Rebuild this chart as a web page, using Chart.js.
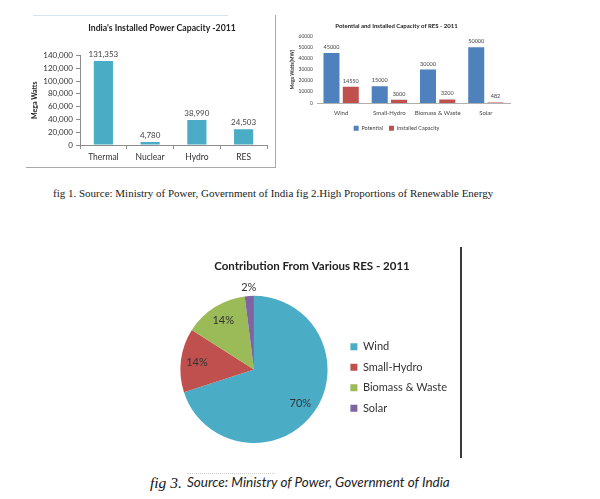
<!DOCTYPE html>
<html>
<head>
<meta charset="utf-8">
<script src="https://cdn.jsdelivr.net/npm/chart.js@4.4.0/dist/chart.umd.min.js"></script>
<style>
    body { margin: 0; width: 600px; height: 499px; background: #fff; position: relative; overflow: hidden; font-family: Lato, sans-serif; }
    canvas { position: absolute; }
    .abs { position: absolute; white-space: nowrap; }
</style>
</head>
<body>
<!-- frame round the first chart -->
<div class="abs" style="left:26px;top:15px;width:249px;height:152px;border-right:1px solid #a8a8a8;border-bottom:1px solid #a8a8a8;"></div>
<div class="abs" style="left:33px;top:15px;width:195px;height:0;border-top:1px solid #d4e4f0;"></div>

<canvas id="capacity-chart" width="272" height="152" style="left:26px;top:15px"></canvas>
<canvas id="res-chart" width="230" height="126" style="left:283px;top:15px"></canvas>

<div class="abs" style="left:53px;top:187px;font-family:'Liberation Serif',serif;font-size:11px;color:#222;">fig 1. Source: Ministry of Power, Government of India fig 2.High Proportions of Renewable Energy</div>

<canvas id="share-chart" width="290" height="193" style="left:167px;top:250px"></canvas>
<div class="abs" style="left:460px;top:247px;width:2px;height:211px;background:#3a3a3a;"></div>

<div class="abs" style="left:187px;top:473px;width:88px;height:0;border-top:1px dotted #cfcfcf;"></div>
<div class="abs" style="left:150px;top:474px;font-family:'Liberation Serif',serif;font-style:italic;font-size:15.5px;color:#111;">fig 3.</div>
<div class="abs" style="left:187px;top:474px;font-family:Lato,sans-serif;font-style:italic;font-size:13.5px;color:#222;">Source: Ministry of Power, Government of India</div>

<script>
// fig 1 - installed capacity
const capacityLabels = ['Thermal', 'Nuclear', 'Hydro', 'RES'];
const capacityValues = [131353, 4780, 38990, 24503];
const capacityTicks = [0, 20000, 40000, 60000, 80000, 100000, 120000, 140000];

// fig 2 - potential vs installed
const resLabels = ['Wind', 'Small-Hydro', 'Biomass & Waste', 'Solar'];
const potentialValues = [45000, 15000, 30000, 50000];
const installedValues = [14550, 3000, 3200, 482];
const resTicks = [0, 10000, 20000, 30000, 40000, 50000, 60000];

// fig 3 - share of RES
const shareLabels = ['Wind', 'Small-Hydro', 'Biomass & Waste', 'Solar'];
const shareValues = [70, 14, 14, 2];

const FONT = 'Lato';

// numbers on top of the bars
const valueLabels = {
    id: 'valueLabels',
    afterDatasetsDraw(chart, args, opts) {
        const ctx = chart.ctx;
        ctx.save();
        ctx.font = opts.size + 'px ' + FONT;
        ctx.fillStyle = opts.color;
        ctx.textAlign = 'center';
        ctx.textBaseline = 'bottom';
        chart.data.datasets.forEach((ds, i) => {
            chart.getDatasetMeta(i).data.forEach((bar, j) => {
                ctx.fillText(opts.format(ds.data[j]), bar.x, bar.y - opts.offset);
            });
        });
        ctx.restore();
    }
};

// percentages on the pie
const sliceLabels = {
    id: 'sliceLabels',
    afterDatasetsDraw(chart) {
        const ctx = chart.ctx;
        const ds = chart.data.datasets[0];
        const total = ds.data.reduce((a, b) => a + b, 0);
        ctx.save();
        ctx.font = '11px ' + FONT;
        ctx.fillStyle = '#333';
        ctx.textAlign = 'center';
        ctx.textBaseline = 'middle';
        chart.getDatasetMeta(0).data.forEach((arc, i) => {
            const share = ds.data[i] / total;
            const mid = (arc.startAngle + arc.endAngle) / 2;
            const r = share < 0.05 ? arc.outerRadius + 9 : arc.outerRadius * 0.78;
            ctx.fillText(Math.round(share * 100) + '%', arc.x + Math.cos(mid) * r, arc.y + Math.sin(mid) * r);
        });
        ctx.restore();
    }
};

new Chart(document.getElementById('capacity-chart'), {
    type: 'bar',
    data: {
        labels: capacityLabels,
        datasets: [{
            data: capacityValues,
            backgroundColor: '#4bacc6',
            categoryPercentage: 1,
            barPercentage: 0.41
        }]
    },
    plugins: [valueLabels],
    options: {
        responsive: false,
        animation: false,
        layout: { padding: 0 },
        plugins: {
            legend: { display: false },
            tooltip: { enabled: false },
            title: {
                display: true,
                text: "India's Installed Power Capacity -2011",
                color: '#222',
                font: { family: FONT, size: 8.7, weight: 'bold' },
                padding: { top: 8, bottom: 22 }
            },
            valueLabels: { size: 8, color: '#444', offset: 3, format: v => v.toLocaleString('en-US') }
        },
        scales: {
            x: {
                grid: { drawOnChartArea: false, tickLength: 4, color: '#8c8c8c', offset: true },
                border: { color: '#8c8c8c' },
                ticks: { color: '#333', font: { family: FONT, size: 8.5 }, padding: 3 },
                afterFit(scale) { scale.height = 22; }
            },
            y: {
                min: 0,
                max: 140000,
                afterBuildTicks(scale) { scale.ticks = capacityTicks.map(v => ({ value: v })); },
                grid: { drawOnChartArea: false, tickLength: 4, color: '#8c8c8c' },
                border: { color: '#8c8c8c' },
                ticks: { color: '#333', font: { family: FONT, size: 8 }, padding: 3, callback: v => v.toLocaleString('en-US') },
                title: { display: true, text: 'Mega Watts', color: '#222', font: { family: FONT, size: 7, weight: 'bold' }, padding: { top: 5, bottom: 0 } },
                afterFit(scale) { scale.width = 54; }
            },
            // empty right-hand space, so the title sits off-centre like the original
            spacer: {
                position: 'right',
                grid: { display: false },
                border: { display: false },
                ticks: { display: false },
                afterFit(scale) { scale.width = 31; }
            }
        }
    }
});

new Chart(document.getElementById('res-chart'), {
    type: 'bar',
    data: {
        labels: resLabels,
        datasets: [
            { label: 'Potential', data: potentialValues, backgroundColor: '#4f81bd', categoryPercentage: 0.8, barPercentage: 0.83 },
            { label: 'Installed Capacity', data: installedValues, backgroundColor: '#c0504d', categoryPercentage: 0.8, barPercentage: 0.83 }
        ]
    },
    plugins: [valueLabels],
    options: {
        responsive: false,
        animation: false,
        layout: { padding: { left: 0, right: 3, top: 0, bottom: 0 } },
        plugins: {
            legend: {
                position: 'bottom',
                labels: { boxWidth: 5, boxHeight: 5, padding: 6, color: '#444', font: { family: FONT, size: 5.5 } }
            },
            tooltip: { enabled: false },
            title: {
                display: true,
                text: 'Potential and Installed Capacity of RES - 2011',
                color: '#222',
                font: { family: FONT, size: 6, weight: 'bold' },
                padding: { top: 7, bottom: 7 }
            },
            valueLabels: { size: 5.5, color: '#444', offset: 3, format: v => String(v) }
        },
        scales: {
            x: {
                grid: { display: false, drawTicks: false },
                border: { color: '#b0b0b0' },
                ticks: { color: '#444', font: { family: FONT, size: 6 }, padding: 6, maxRotation: 0, minRotation: 0, autoSkip: false },
                afterFit(scale) { scale.height = 16.5; }
            },
            y: {
                min: 0,
                max: 60000,
                afterBuildTicks(scale) { scale.ticks = resTicks.map(v => ({ value: v })); },
                grid: { display: false, drawTicks: false },
                border: { display: false },
                ticks: { color: '#444', font: { family: FONT, size: 5 }, padding: 4, callback: v => String(v) },
                title: { display: true, text: 'Mega Watts(MW)', color: '#333', font: { family: FONT, size: 5, weight: 'bold' }, padding: { top: 6, bottom: 0 } },
                afterFit(scale) { scale.width = 34; }
            }
        }
    }
});

new Chart(document.getElementById('share-chart'), {
    type: 'pie',
    data: {
        labels: shareLabels,
        datasets: [{
            data: shareValues,
            backgroundColor: ['#4bacc6', '#c0504d', '#9bbb59', '#8064a2'],
            borderWidth: 0
        }]
    },
    plugins: [sliceLabels],
    options: {
        responsive: false,
        animation: false,
        layout: { padding: 0 },
        plugins: {
            legend: {
                position: 'right',
                fullSize: false,
                // empty title only pushes the items a little lower
                title: { display: true, text: '', font: { size: 10 }, padding: { top: 2, bottom: 2 } },
                labels: { boxWidth: 7, boxHeight: 7, padding: 9.5, color: '#333', font: { family: FONT, size: 11 } }
            },
            tooltip: { enabled: false },
            title: {
                display: true,
                text: 'Contribution From Various RES - 2011',
                color: '#222',
                font: { family: FONT, size: 11.5, weight: 'bold' },
                padding: { top: 9, bottom: 23 }
            }
        }
    }
});
</script>
</body>
</html>
